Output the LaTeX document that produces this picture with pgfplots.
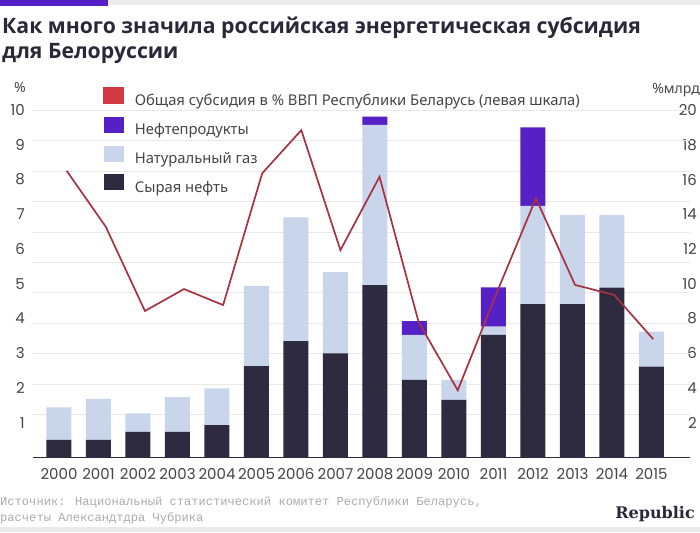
\documentclass[border=0pt]{standalone}
\usepackage{fontspec}
\setmainfont{Noto Sans}
\newfontfamily\titlefont{Open Sans}
\newfontfamily\numfont{Poppins}
\newfontfamily\monofont{Liberation Mono}
\newfontfamily\logofont{DejaVu Serif}
\usepackage{pgfplots}
\pgfplotsset{compat=1.18}
\definecolor{darkbar}{HTML}{2E2A40}
\definecolor{gasbar}{HTML}{C8D5EA}
\definecolor{oilprod}{HTML}{5520C5}
\definecolor{subline}{HTML}{A83240}
\definecolor{legred}{HTML}{D03A44}
\definecolor{gridc}{HTML}{E8E8E8}
\definecolor{txt}{HTML}{454545}
\definecolor{titlec}{HTML}{2A2838}
\definecolor{topgray}{HTML}{EBEBEB}
\definecolor{footc}{HTML}{ABABAB}
\begin{document}
\begin{tikzpicture}[x=1pt,y=1pt]
\useasboundingbox (0,0) rectangle (700,532);
\fill[topgray] (0,527) rectangle (700,532);
\fill[oilprod] (0,526) rectangle (108,532);
\fill[topgray] (0,0) rectangle (700,5);
\node[anchor=base west, inner sep=0pt, font=\titlefont\bfseries\fontsize{21.2}{25}\selectfont, text=titlec] at (2,498.7) {Как много значила российская энергетическая субсидия};
\node[anchor=base west, inner sep=0pt, font=\titlefont\bfseries\fontsize{21.2}{25}\selectfont, text=titlec] at (2,473.7) {для Белоруссии};
\node[inner sep=0pt, font=\fontsize{14}{14}\selectfont, text=txt] at (20,444) {\%};
\node[anchor=east, inner sep=0pt, font=\fontsize{14}{14}\selectfont, text=txt] at (700,442) {\%млрд};

\begin{axis}[
  at={(33pt,74.3pt)}, anchor=south west, scale only axis,
  width=657pt, height=347.7pt,
  xmin=-0.658, xmax=15.975, ymin=0, ymax=20,
  axis x line*=bottom, axis y line*=right,
  x axis line style={draw=darkbar, line width=1pt, -},
  y axis line style={draw=none},
  xtick={0,1,2,3,4,5,6,7,8,9,10,11,12,13,14,15},
  xticklabels={2000,2001,2002,2003,2004,2005,2006,2007,2008,2009,2010,2011,2012,2013,2014,2015},
  ytick={2,4,6,8,10,12,14,16,18,20},
  major tick length=0pt,
  extra y ticks={2.50,4.24,6.01,7.73,9.51,11.24,12.97,14.73,16.49,18.24,19.99},
  extra y tick labels={},
  extra y tick style={grid=major},
  major grid style={draw=gridc, line width=0.9pt},
  /pgf/number format/assume math mode=true,
  xticklabel style={anchor=base, yshift=-22pt, font=\numfont\fontsize{15}{15}\selectfont, text=txt},
  yticklabel style={anchor=east, xshift=8pt, inner sep=1pt, fill=white, font=\numfont\fontsize{15}{15}\selectfont, text=txt},
  ybar stacked, bar width=25pt,
]
\addplot[fill=darkbar, draw=none] coordinates {(0,1.02) (1,1.02) (2,1.48) (3,1.48) (4,1.88) (5,5.27) (6,6.71) (7,6.00) (8,9.93) (9,4.47) (10,3.32) (11,7.06) (12,8.84) (13,8.84) (14,9.78) (15,5.24)};
\addplot[fill=gasbar, draw=none] coordinates {(0,1.88) (1,2.36) (2,1.07) (3,2.01) (4,2.11) (5,4.61) (6,7.12) (7,4.68) (8,9.21) (9,2.59) (10,1.15) (11,0.48) (12,5.64) (13,5.12) (14,4.18) (15,2.01)};
\addplot[fill=oilprod, draw=none] coordinates {(0,0) (1,0) (2,0) (3,0) (4,0) (5,0) (6,0) (7,0) (8,0.48) (9,0.80) (10,0) (11,2.26) (12,4.52) (13,0) (14,0) (15,0)};
\end{axis}

\begin{axis}[
  at={(33pt,74.3pt)}, anchor=south west, scale only axis,
  width=657pt, height=347.7pt,
  xmin=-0.862, xmax=15.94, ymin=0, ymax=10,
  hide x axis, axis y line*=left,
  y axis line style={draw=none},
  ytick={1,2,3,4,5,6,7,8,9,10},
  major tick length=0pt,
  /pgf/number format/assume math mode=true,
  yticklabel style={anchor=east, xshift=-8pt, inner sep=0pt, font=\numfont\fontsize{15}{15}\selectfont, text=txt},
  legend style={at={(axis description cs:0.1065,1.0656)}, anchor=north west, draw=none, fill=none, inner sep=0pt,
    row sep=7.6pt, column sep=11pt, font=\fontsize{14.8}{15}\selectfont, text=txt,
    nodes={inner sep=0pt, text height=11.5pt, text depth=3.5pt}},
  legend cell align=left,
]
\addplot[subline, line width=1.7pt, mark=none,
  legend image code/.code={\fill[legred] (0pt,-1.5pt) rectangle (19pt,13.5pt);}]
  coordinates {(0,8.25) (1,6.64) (2,4.22) (3,4.85) (4,4.39) (5,8.18) (6,9.42) (7,5.97) (8,8.08) (9,3.90) (10,1.94) (11,4.75) (12,7.46) (13,4.97) (14,4.68) (15,3.41)};
\addlegendentry{Общая субсидия в \% ВВП Республики Беларусь (левая шкала)}
\addlegendimage{legend image code/.code={\fill[oilprod] (0pt,-1.5pt) rectangle (19pt,13.5pt);}}
\addlegendentry{Нефтепродукты}
\addlegendimage{legend image code/.code={\fill[gasbar] (0pt,-1.5pt) rectangle (19pt,13.5pt);}}
\addlegendentry{Натуральный газ}
\addlegendimage{legend image code/.code={\fill[darkbar] (0pt,-1.5pt) rectangle (19pt,13.5pt);}}
\addlegendentry{Сырая нефть}
\end{axis}

\node[anchor=base west, inner sep=0pt, font=\monofont\fontsize{12.1}{17}\selectfont, text=footc] at (0,27) {Источник: Национальный статистический комитет Республики Беларусь,};
\node[anchor=base west, inner sep=0pt, font=\monofont\fontsize{12.1}{17}\selectfont, text=footc] at (0,11) {расчеты Александтдра Чубрика};
\node[anchor=base east, inner sep=0pt, font=\logofont\bfseries\fontsize{16}{16}\selectfont, text=titlec] at (695,14) {Republic};
\end{tikzpicture}
\end{document}
